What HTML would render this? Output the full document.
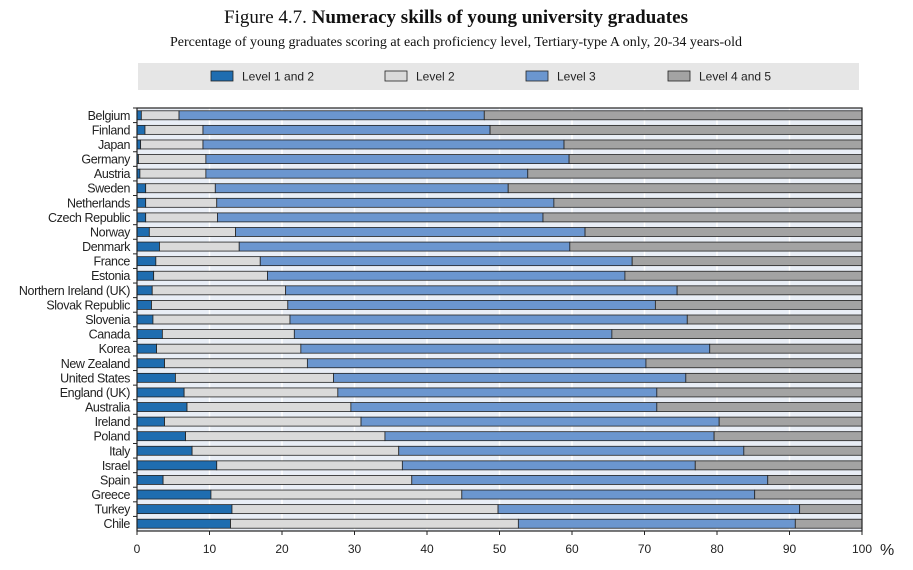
<!DOCTYPE html>
<html><head><meta charset="utf-8"><style>
body{margin:0;background:#fff;width:913px;height:565px;overflow:hidden;font-family:"Liberation Sans",sans-serif}
</style></head><body>
<svg width="913" height="565" id="svg" xmlns="http://www.w3.org/2000/svg">
<text x="456" y="23" text-anchor="middle" font-family="Liberation Serif" font-size="19" fill="#111">Figure 4.7.  <tspan font-weight="bold">Numeracy skills of young university graduates</tspan></text>
<text x="456" y="46" text-anchor="middle" font-family="Liberation Serif" font-size="14" fill="#111">Percentage of young graduates scoring at each proficiency level, Tertiary-type A only, 20-34 years-old</text>
<rect x="138" y="63" width="721" height="27" fill="#e6e6e6"/>
<g id="legend"></g>
<rect x="137" y="108" width="725" height="423" fill="#e9eef6"/>
<g id="grid"></g><g id="bars"></g><g id="axes"></g>
</svg>
<script>
const countries=["Belgium","Finland","Japan","Germany","Austria","Sweden","Netherlands","Czech Republic","Norway","Denmark","France","Estonia","Northern Ireland (UK)","Slovak Republic","Slovenia","Canada","Korea","New Zealand","United States","England (UK)","Australia","Ireland","Poland","Italy","Israel","Spain","Greece","Turkey","Chile"];
const level1=[0.6,1.1,0.5,0.2,0.4,1.2,1.2,1.2,1.7,3.1,2.6,2.3,2.1,2.0,2.2,3.5,2.7,3.8,5.3,6.5,6.9,3.8,6.7,7.6,11.0,3.6,10.2,13.1,12.9];
const level2=[5.2,8.0,8.6,9.3,9.1,9.6,9.8,9.9,11.9,11.0,14.4,15.7,18.4,18.8,18.9,18.2,19.9,19.7,21.8,21.2,22.6,27.1,27.5,28.5,25.6,34.3,34.6,36.7,39.7];
const level3=[42.1,39.6,49.8,50.1,44.4,40.4,46.5,44.9,48.2,45.6,51.3,49.3,54.0,50.7,54.8,43.8,56.4,46.7,48.6,44.0,42.2,49.4,45.4,47.6,40.4,49.1,40.4,41.6,38.2];
const seriesNames=["Level 1 and 2","Level 2","Level 3","Level 4 and 5"];
const xTicks=[0,10,20,30,40,50,60,70,80,90,100];
const colors=["#1f6db0","#dadada","#6b96cf","#a3a3a3"];
const NS="http://www.w3.org/2000/svg";
const X0=137,X1=862,Y0=108,Y1=531;
const xs=v=>X0+(X1-X0)*v/100;
const rowH=(Y1-Y0)/countries.length;
const yc=i=>Y0+rowH*(i+0.5);
function mk(t,a,p){const e=document.createElementNS(NS,t);for(const k in a)e.setAttribute(k,a[k]);p.appendChild(e);return e;}
const grid=document.getElementById('grid'),bars=document.getElementById('bars'),axes=document.getElementById('axes'),legend=document.getElementById('legend');
xTicks.forEach(t=>{
 if(t>0&&t<100){const g=mk('line',{x1:xs(t),x2:xs(t),y1:Y0,y2:Y1,stroke:'#fff','stroke-width':1.5},grid);
 
 }
 const tl=mk('text',{x:xs(t),y:553,'text-anchor':'middle','font-size':12,fill:'#222'},axes);tl.textContent=t;
 
 
 mk('line',{x1:xs(t),x2:xs(t),y1:Y1,y2:Y1+4,stroke:'#222'},axes);
});
const pc=mk('text',{x:880,y:555,'font-size':16,fill:'#222'},axes);pc.textContent='%';


countries.forEach((c,i)=>{
 const vals=[level1[i],level2[i],level3[i],100-level1[i]-level2[i]-level3[i]];
 let acc=0;
 vals.forEach((v,s)=>{
  const r=mk('rect',{x:xs(acc),y:yc(i)-4.5,width:xs(acc+v)-xs(acc),height:9,fill:colors[s],stroke:'#222','stroke-width':0.8},bars);
  
  
  acc+=v;
 });
 const l=mk('text',{x:130,y:yc(i)+4.5,'text-anchor':'end','font-size':12.5,fill:'#222','letter-spacing':'-0.4'},axes);l.textContent=c;
 
 
 mk('line',{x1:X0-4,x2:X0,y1:Y0+rowH*i,y2:Y0+rowH*i,stroke:'#222'},axes);
});
mk('rect',{x:X0,y:Y0,width:X1-X0,height:Y1-Y0,fill:'none',stroke:'#222','stroke-width':1.2},axes);
const lx=[211,385,526,668];
seriesNames.forEach((n,s)=>{
 const r=mk('rect',{x:lx[s],y:71,width:22,height:10,fill:colors[s],stroke:'#222','stroke-width':0.8},legend);
 
 
 const t=mk('text',{x:lx[s]+31,y:80.5,'font-size':12,fill:'#222'},legend);t.textContent=n;
 
 
});
</script>
</body></html>
